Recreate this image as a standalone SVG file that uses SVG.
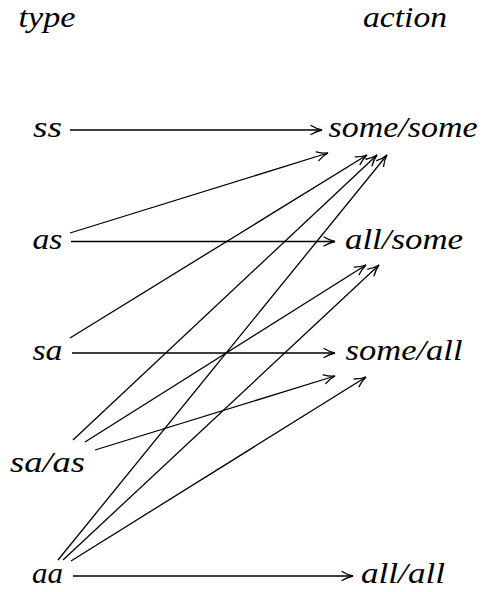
<svg xmlns="http://www.w3.org/2000/svg" width="484" height="592" viewBox="0 0 484 592">
<style>
text{font-family:"Liberation Serif","DejaVu Serif",serif;font-style:italic;font-size:30px;fill:#000;text-anchor:middle}
.c line{stroke:#000;stroke-width:1.3;fill:none;marker-end:url(#ah)}
</style>
<defs>
<marker id="ah" viewBox="-13 -7 15 14" markerWidth="15" markerHeight="14" refX="0" refY="0" orient="auto" markerUnits="userSpaceOnUse">
<path d="M -11 -4.5 C -7 -2 -3 -0.6 0 0 C -3 0.6 -7 2 -11 4.5" fill="none" stroke="#000" stroke-width="1.3" stroke-linecap="round"/>
</marker>
</defs>
<rect width="484" height="592" fill="#fff"/>
<g id="header-type"><text x="47" y="27" textLength="57" lengthAdjust="spacingAndGlyphs">type</text></g>
<g id="header-action"><text x="405" y="27" textLength="84" lengthAdjust="spacingAndGlyphs">action</text></g>
<g id="ss"><text x="47.5" y="137" textLength="29" lengthAdjust="spacingAndGlyphs">ss</text></g>
<g id="as"><text x="47.5" y="248.5" textLength="30" lengthAdjust="spacingAndGlyphs">as</text></g>
<g id="sa"><text x="47.5" y="360" textLength="30" lengthAdjust="spacingAndGlyphs">sa</text></g>
<g id="sa-as"><text x="47.5" y="472" textLength="75" lengthAdjust="spacingAndGlyphs">sa/as</text></g>
<g id="aa"><text x="47.5" y="583" textLength="31" lengthAdjust="spacingAndGlyphs">aa</text></g>
<g id="some-some"><text x="403" y="137" textLength="149" lengthAdjust="spacingAndGlyphs">some/some</text></g>
<g id="all-some"><text x="404" y="248.5" textLength="118" lengthAdjust="spacingAndGlyphs">all/some</text></g>
<g id="some-all"><text x="404" y="360" textLength="117" lengthAdjust="spacingAndGlyphs">some/all</text></g>
<g id="all-all"><text x="403" y="583" textLength="84" lengthAdjust="spacingAndGlyphs">all/all</text></g>
<g id="connectors" class="c">
<line x1="70" y1="130" x2="322" y2="130"/>
<line x1="70" y1="233" x2="328" y2="153"/>
<line x1="71" y1="241.5" x2="335" y2="241.5"/>
<line x1="70" y1="338" x2="367" y2="155"/>
<line x1="72" y1="353" x2="335" y2="353"/>
<line x1="73" y1="440" x2="377" y2="155"/>
<line x1="85" y1="442" x2="366" y2="265"/>
<line x1="95" y1="450" x2="335" y2="376"/>
<line x1="58" y1="560" x2="387" y2="155"/>
<line x1="63" y1="560" x2="379" y2="265"/>
<line x1="71" y1="561" x2="366" y2="377"/>
<line x1="73" y1="576" x2="353" y2="576"/>
</g>
</svg>
